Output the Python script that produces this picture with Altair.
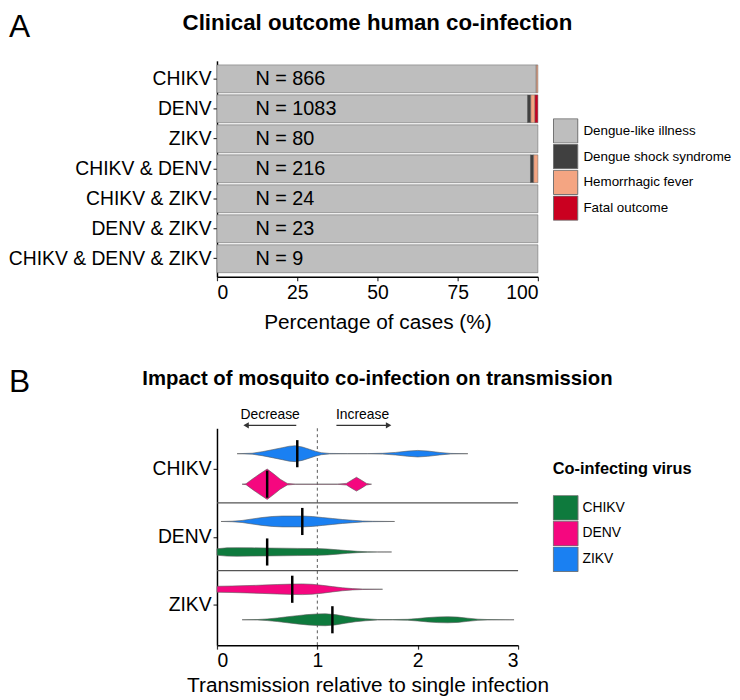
import altair as alt
import pandas as pd

FONT = "Liberation Sans"

# ---------------- Panel A: clinical outcome ----------------
groups = ["CHIKV", "DENV", "ZIKV", "CHIKV & DENV", "CHIKV & ZIKV", "DENV & ZIKV", "CHIKV & DENV & ZIKV"]
n_cases = [866, 1083, 80, 216, 24, 23, 9]
outcomes = ["Dengue-like illness", "Dengue shock syndrome", "Hemorrhagic fever", "Fatal outcome"]
outcome_colors = ["#BEBEBE", "#404040", "#F4A582", "#CA0020"]
pct_dengue_like = [99.5, 96.8, 100.0, 97.7, 100.0, 100.0, 100.0]
pct_shock = [0.0, 1.0, 0.0, 1.0, 0.0, 0.0, 0.0]
pct_hemorrhagic = [0.5, 1.3, 0.0, 1.3, 0.0, 0.0, 0.0]
pct_fatal = [0.0, 0.9, 0.0, 0.0, 0.0, 0.0, 0.0]
pct_ticks = [0, 25, 50, 75, 100]

# ---------------- Panel B: mosquito co-infection ----------------
infected = ["CHIKV", "DENV", "ZIKV"]            # top to bottom
coinf_viruses = ["CHIKV", "DENV", "ZIKV"]
coinf_colors = ["#0E7A3D", "#F5077F", "#1A80F2"]
trans_ticks = [0, 1, 2, 3]

# violin outlines: transmission value and half width (in row units)
v1_x = [0.20, 0.35, 0.45, 0.55, 0.65, 0.72, 0.78, 0.85, 0.92, 0.98, 1.04, 1.12, 1.30, 1.50, 1.65, 1.78, 1.90, 2.00, 2.10, 2.22, 2.33, 2.50]
v1_w = [0, .007, .029, .058, .088, .110, .117, .099, .066, .037, .015, .004, .0015, .0015, .006, .019, .038, .048, .039, .018, .004, 0]
v2_x = [0.25, 0.29, 0.35, 0.42, 0.50, 0.57, 0.63, 0.70, 0.78, 1.20, 1.29, 1.34, 1.39, 1.44, 1.49, 1.54]
v2_w = [0, .007, .073, .146, .224, .146, .073, .012, .0015, .0015, .012, .058, .102, .058, .012, 0]
v3_x = [0.04, 0.15, 0.25, 0.35, 0.45, 0.55, 0.65, 0.75, 0.85, 0.95, 1.05, 1.15, 1.25, 1.35, 1.45, 1.55, 1.77]
v3_w = [0, .004, .015, .037, .058, .073, .080, .080, .080, .073, .058, .044, .029, .018, .007, .003, 0]
v4_x = [0.00, 0.10, 0.20, 0.35, 0.50, 0.65, 0.80, 1.00, 1.10, 1.20, 1.30, 1.40, 1.50, 1.60, 1.74]
v4_w = [.048, .061, .063, .061, .058, .056, .053, .050, .044, .032, .020, .010, .004, .0015, 0]
v5_x = [0.00, 0.15, 0.30, 0.45, 0.60, 0.75, 0.85, 0.95, 1.05, 1.15, 1.25, 1.35, 1.45, 1.65]
v5_w = [.044, .048, .054, .061, .070, .076, .079, .073, .058, .039, .022, .010, .004, 0]
v6_x = [0.25, 0.40, 0.50, 0.60, 0.70, 0.80, 0.90, 1.00, 1.08, 1.18, 1.28, 1.38, 1.48, 1.60, 1.75, 1.90, 2.00, 2.10, 2.20, 2.30, 2.40, 2.50, 2.60, 2.70, 2.96]
v6_w = [0, .003, .012, .026, .044, .061, .076, .086, .088, .076, .051, .029, .015, .004, .003, .007, .018, .032, .042, .045, .039, .023, .009, .003, 0]

violin_infected = ["CHIKV", "CHIKV", "DENV", "DENV", "ZIKV", "ZIKV"]
violin_coinf = ["ZIKV", "DENV", "ZIKV", "CHIKV", "DENV", "CHIKV"]
violin_x = [v1_x, v2_x, v3_x, v4_x, v5_x, v6_x]
violin_w = [v1_w, v2_w, v3_w, v4_w, v5_w, v6_w]
violin_median = [0.80, 0.50, 0.85, 0.50, 0.75, 1.15]

# ---------------- build tables ----------------
rows_a = []
for i, g in enumerate(groups):
    for j, vals in enumerate([pct_dengue_like, pct_shock, pct_hemorrhagic, pct_fatal]):
        if vals[i] > 0:
            rows_a.append({"group": g, "outcome": outcomes[j], "ord": j, "pct": vals[i]})
df_a = pd.DataFrame(rows_a)
df_n = pd.DataFrame({"group": groups, "label": [f"N = {n}" for n in n_cases]})

n_inf = len(infected)
row_pos = {v: n_inf - k for k, v in enumerate(infected)}   # CHIKV top
dodge = 0.225
rows_v, rows_m = [], []
for k in range(len(violin_infected)):
    inf, co = violin_infected[k], violin_coinf[k]
    pair = sorted([c for c, i2 in zip(violin_coinf, violin_infected) if i2 == inf], key=coinf_viruses.index)
    center = row_pos[inf] + (dodge if pair.index(co) == 1 else -dodge)
    for xv, wv in zip(violin_x[k], violin_w[k]):
        rows_v.append({"vid": k, "coinf": co, "x": xv, "lo": center - wv, "hi": center + wv})
    rows_m.append({"coinf": co, "median": violin_median[k], "lo": center - 0.2, "hi": center + 0.2})
df_v = pd.DataFrame(rows_v)
df_m = pd.DataFrame(rows_m)
df_sep = pd.DataFrame({"y": [k + 1.5 for k in range(n_inf - 1)]})

label_expr = " : ".join([f"datum.value == {row_pos[v]} ? '{v}'" for v in infected[:-1]]) + f" : '{infected[-1]}'"

# ---------------- Panel A chart ----------------
WA, HA = 324, 218
y_a = alt.Y("group:N", sort=groups, title=None,
            scale=alt.Scale(paddingInner=0.07, paddingOuter=0.135),
            axis=alt.Axis(labelPadding=2, labelLimit=0, minExtent=210, maxExtent=210))
x_a = alt.X("pct:Q", stack="zero", title="Percentage of cases (%)",
            scale=alt.Scale(domain=[0, 100], nice=False),
            axis=alt.Axis(values=pct_ticks, titlePadding=10, labelPadding=3))

bars = alt.Chart(df_a).mark_bar(stroke="#5c5c5c", strokeWidth=0.5).encode(
    x=x_a,
    y=y_a,
    color=alt.Color("outcome:N", scale=alt.Scale(domain=outcomes, range=outcome_colors),
                    legend=alt.Legend(title=None, orient="none", legendX=339, legendY=58,
                                      symbolType="square", symbolSize=600, rowPadding=0, clipHeight=25.5,
                                      symbolStrokeColor="#707070", symbolStrokeWidth=1,
                                      symbolOpacity=1, labelFontSize=13.5, labelOffset=5)),
    order=alt.Order("ord:Q", sort="ascending"),
)
ntext = alt.Chart(df_n).mark_text(align="left", baseline="middle", fontSize=20, font=FONT, color="black").encode(
    x=alt.datum(12), y=alt.Y("group:N", sort=groups), text="label:N")
letter_a = alt.Chart(pd.DataFrame({"t": ["A"]})).mark_text(
    align="left", baseline="alphabetic", fontSize=32, font=FONT, color="black").encode(
    x=alt.value(-210), y=alt.value(-24), text="t:N")
title_a = alt.Chart(pd.DataFrame({"t": ["Clinical outcome human co-infection"]})).mark_text(
    align="center", baseline="middle", fontSize=22.5, fontWeight="bold", font=FONT, color="black").encode(
    x=alt.value(WA / 2), y=alt.value(-38), text="t:N")

panel_a = alt.layer(bars, ntext, letter_a, title_a).properties(width=WA, height=HA)

# ---------------- Panel B chart ----------------
WB, HB = 304, 219
x_b = alt.X("x:Q", title="Transmission relative to single infection",
            scale=alt.Scale(domain=[0, 3], nice=False),
            axis=alt.Axis(values=trans_ticks, format="d", titlePadding=4, labelPadding=3))
y_b_scale = alt.Scale(domain=[0.4, n_inf + 0.6], nice=False, zero=False)
y_b = alt.Y("lo:Q", title=None, scale=y_b_scale,
            axis=alt.Axis(values=[row_pos[v] for v in infected], labelExpr=label_expr,
                          labelPadding=2, minExtent=210, maxExtent=210))
color_b = alt.Color("coinf:N", scale=alt.Scale(domain=coinf_viruses, range=coinf_colors),
                    legend=alt.Legend(title="Co-infecting virus", orient="none", legendX=339, legendY=33,
                                      titleFontSize=16.5, titleFontWeight="bold", titlePadding=18,
                                      symbolType="square", symbolSize=625, rowPadding=0, clipHeight=25.5,
                                      symbolStrokeColor="#707070", symbolStrokeWidth=1,
                                      symbolOpacity=1, labelFontSize=14, labelOffset=4))

seps = alt.Chart(df_sep).mark_rule(color="#555555", strokeWidth=1.1).encode(
    y=alt.Y("y:Q", scale=y_b_scale), x=alt.datum(0), x2=alt.datum(3))
dashed = alt.Chart(pd.DataFrame({"v": [1]})).mark_rule(color="#444444", strokeWidth=0.9, strokeDash=[3, 3]).encode(
    x=alt.X("v:Q"))
violins = alt.Chart(df_v).mark_area(orient="vertical", opacity=1, stroke="#5a5a5a", strokeWidth=0.6).encode(
    x=x_b, y=y_b, y2="hi:Q", color=color_b, detail="vid:N")
medians = alt.Chart(df_m).mark_rule(color="black", strokeWidth=2.5).encode(
    x="median:Q", y=alt.Y("lo:Q"), y2="hi:Q")

arrow_y = n_inf + 0.644
text_y = n_inf + 0.794
ann_text = alt.Chart(pd.DataFrame({"t": ["Decrease", "Increase"], "x": [0.53, 1.45]})).mark_text(
    fontSize=14, font=FONT, color="black", baseline="middle").encode(
    x="x:Q", y=alt.datum(text_y), text="t:N")
ann_lines = alt.Chart(pd.DataFrame({"x": [0.30, 1.19], "x2": [0.79, 1.70]})).mark_rule(
    color="#333333", strokeWidth=1.2).encode(x="x:Q", x2="x2:Q", y=alt.datum(arrow_y))
head_l = alt.Chart(pd.DataFrame({"x": [0.29]})).mark_point(
    shape="triangle-left", filled=True, size=40, color="#333333", opacity=1).encode(x="x:Q", y=alt.datum(arrow_y))
head_r = alt.Chart(pd.DataFrame({"x": [1.71]})).mark_point(
    shape="triangle-right", filled=True, size=40, color="#333333", opacity=1).encode(x="x:Q", y=alt.datum(arrow_y))
letter_b = alt.Chart(pd.DataFrame({"t": ["B"]})).mark_text(
    align="left", baseline="alphabetic", fontSize=32, font=FONT, color="black").encode(
    x=alt.value(-210), y=alt.value(-37), text="t:N")
title_b = alt.Chart(pd.DataFrame({"t": ["Impact of mosquito co-infection on transmission"]})).mark_text(
    align="center", baseline="middle", fontSize=20.5, fontWeight="bold", font=FONT, color="black").encode(
    x=alt.value(162), y=alt.value(-50), text="t:N")

panel_b = alt.layer(seps, dashed, violins, medians, ann_lines, head_l, head_r, ann_text, letter_b, title_b).properties(
    width=WB, height=HB)

chart = alt.vconcat(panel_a, panel_b, spacing=33).resolve_scale(
    color="independent", x="independent", y="independent").resolve_legend(color="independent").properties(
    padding=0).configure_view(strokeWidth=0).configure_axis(
    grid=False, domainColor="black", domainWidth=1.5, tickColor="#333333", tickWidth=1.2, tickSize=4,
    labelColor="black", titleColor="black", labelFont=FONT, titleFont=FONT,
    labelFontSize=19.5, titleFontSize=21, titleFontWeight="normal").configure_legend(
    labelFont=FONT, titleFont=FONT, labelColor="black", titleColor="black")

chart.save("out.html", embed_options={"renderer": "svg", "actions": False})
